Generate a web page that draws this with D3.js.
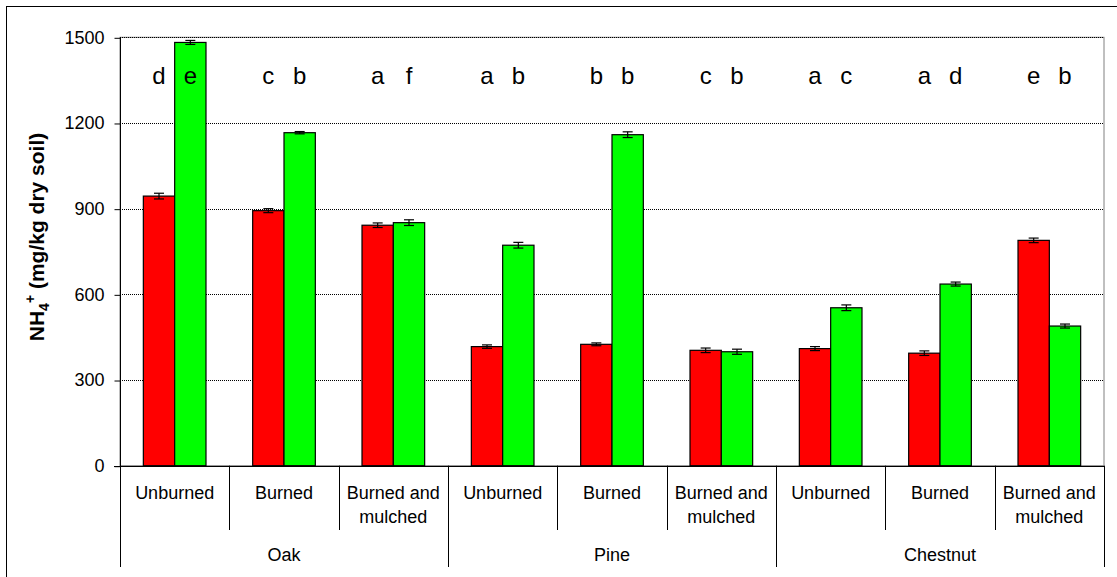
<!DOCTYPE html>
<html>
<head>
<meta charset="utf-8">
<script src="https://cdn.jsdelivr.net/npm/d3@7"></script>
<style>
  html, body { margin: 0; padding: 0; background: #fff; }
  svg { display: block; }
  text { font-family: Arial, "Liberation Sans", sans-serif; fill: #000; }
</style>
</head>
<body>
<svg id="chart" width="1117" height="577"></svg>
<script>
// Sites (outer grouping) and treatments (inner grouping)
const sites = ["Oak", "Pine", "Chestnut"];
const treatments = ["Unburned", "Burned", "Burned and mulched"];

// NH4+ concentration (mg/kg dry soil), one value per site × treatment
const seriesA = [944, 893, 842, 417, 425, 404, 410, 394, 789];
const seriesB = [1482, 1166, 851, 772, 1159, 399, 553, 636, 489];

// Standard errors
const errorsA = [10, 7, 8, 6, 5, 8, 7, 8, 8];
const errorsB = [7, 4, 10, 10, 10, 9, 10, 7, 7];

// Significance letters
const lettersA = ["d", "c", "a", "a", "b", "c", "a", "a", "e"];
const lettersB = ["e", "b", "f", "b", "b", "b", "c", "d", "b"];

// Y axis ticks
const yTicks = [0, 300, 600, 900, 1200, 1500];

const svg = d3.select("#chart");
const W = 1117, H = 577;
const plot = { left: 120, right: 1104, top: 37.3, bottom: 465.7 };

// Outer frame
svg.append("rect")
  .attr("x", 6.5).attr("y", 6.5)
  .attr("width", W + 10).attr("height", H + 10)
  .attr("fill", "none").attr("stroke", "#000").attr("stroke-width", 1);

// Cells: one per site × treatment
const cells = [];
sites.forEach((s, si) => treatments.forEach((t, ti) => {
  const i = si * treatments.length + ti;
  cells.push({ key: s + "|" + t, site: s, treatment: t,
    values: [
      { series: "A", v: seriesA[i], err: errorsA[i], letter: lettersA[i] },
      { series: "B", v: seriesB[i], err: errorsB[i], letter: lettersB[i] }
    ] });
}));

const x0 = d3.scaleBand()
  .domain(cells.map(d => d.key))
  .range([plot.left, plot.right])
  .paddingInner(0).paddingOuter(0);

const x1 = d3.scaleBand()
  .domain(["A", "B"])
  .range([0, x0.bandwidth()])
  .paddingInner(0)
  .paddingOuter(0.745);

const y = d3.scaleLinear().domain([0, 1500]).range([plot.bottom, plot.top]);

const colors = { A: "#ff0000", B: "#00ff00" };

// Plot area border
svg.append("rect")
  .attr("x", plot.left).attr("y", plot.top)
  .attr("width", plot.right - plot.left).attr("height", plot.bottom - plot.top)
  .attr("fill", "none").attr("stroke", "#808080").attr("stroke-width", 1);

// Gridlines
svg.append("g")
  .selectAll("line")
  .data(yTicks.filter(t => t > 0))
  .join("line")
  .attr("x1", plot.left).attr("x2", plot.right)
  .attr("y1", d => Math.round(y(d)) + 0.5).attr("y2", d => Math.round(y(d)) + 0.5)
  .attr("stroke", "#000").attr("stroke-width", 1)
  .attr("stroke-dasharray", "1,1");

// Y axis
const yAxis = d3.axisLeft(y).tickValues(yTicks).tickSize(6).tickPadding(10)
  .tickFormat(d3.format("d"));
const gy = svg.append("g")
  .attr("transform", `translate(${plot.left + 0.5},0)`)
  .call(yAxis);
gy.select(".domain").remove();
gy.selectAll(".tick line").attr("stroke", "#000")
  .attr("transform", "translate(0,0.5)");
gy.selectAll(".tick text")
  .style("font-size", "18px")
  .style("font-family", "Arial, 'Liberation Sans', sans-serif")
  .attr("fill", "#000");

// Y axis line (continues through category label area)
svg.append("line")
  .attr("x1", plot.left + 0.5).attr("x2", plot.left + 0.5)
  .attr("y1", plot.top).attr("y2", 567)
  .attr("stroke", "#000");

// Bars
const groups = svg.append("g").selectAll("g")
  .data(cells)
  .join("g")
  .attr("transform", d => `translate(${x0(d.key)},0)`);

groups.selectAll("rect")
  .data(d => d.values)
  .join("rect")
  .attr("x", d => x1(d.series))
  .attr("y", d => y(d.v))
  .attr("width", x1.bandwidth())
  .attr("height", d => y(0) - y(d.v))
  .attr("fill", d => colors[d.series])
  .attr("stroke", "#000").attr("stroke-width", 1.2);

// Error bars
const eb = groups.selectAll("g.err")
  .data(d => d.values)
  .join("g").attr("class", "err")
  .attr("transform", d => `translate(${x1(d.series) + x1.bandwidth() / 2},0)`);
eb.append("line")
  .attr("x1", 0).attr("x2", 0)
  .attr("y1", d => y(d.v + d.err)).attr("y2", d => y(d.v - d.err))
  .attr("stroke", "#000").attr("stroke-width", 1.2);
eb.append("line")
  .attr("x1", -5).attr("x2", 5)
  .attr("y1", d => y(d.v + d.err)).attr("y2", d => y(d.v + d.err))
  .attr("stroke", "#000").attr("stroke-width", 1.2);
eb.append("line")
  .attr("x1", -5).attr("x2", 5)
  .attr("y1", d => y(d.v - d.err)).attr("y2", d => y(d.v - d.err))
  .attr("stroke", "#000").attr("stroke-width", 1.2);

// Significance letters
groups.selectAll("text.letter")
  .data(d => d.values)
  .join("text").attr("class", "letter")
  .attr("x", d => x1(d.series) + x1.bandwidth() / 2)
  .attr("y", 84)
  .attr("text-anchor", "middle")
  .style("font-size", "24px")
  .text(d => d.letter);

// X axis baseline
svg.append("line")
  .attr("x1", plot.left - 6).attr("x2", plot.right)
  .attr("y1", Math.round(plot.bottom) + 0.5).attr("y2", Math.round(plot.bottom) + 0.5)
  .attr("stroke", "#000");

// Treatment dividers and labels
const nT = treatments.length;
cells.forEach((c, i) => {
  const xr = x0(c.key) + x0.bandwidth();
  const isSiteEdge = (i + 1) % nT === 0;
  svg.append("line")
    .attr("x1", Math.round(xr) + 0.5).attr("x2", Math.round(xr) + 0.5)
    .attr("y1", plot.bottom).attr("y2", isSiteEdge ? 567 : 530)
    .attr("stroke", "#000");
});

const catLabels = svg.append("g").selectAll("text")
  .data(cells)
  .join("text")
  .attr("x", d => x0(d.key) + x0.bandwidth() / 2)
  .attr("y", 499)
  .attr("text-anchor", "middle")
  .style("font-size", "18px");
catLabels.each(function (d) {
  const words = d.treatment === "Burned and mulched" ? ["Burned and", "mulched"] : [d.treatment];
  const t = d3.select(this);
  words.forEach((w, k) => {
    t.append("tspan")
      .attr("x", x0(d.key) + x0.bandwidth() / 2)
      .attr("dy", k === 0 ? 0 : 23.5)
      .text(w);
  });
});

// Site labels
svg.append("g").selectAll("text")
  .data(sites)
  .join("text")
  .attr("x", (s, si) => {
    const first = x0(s + "|" + treatments[0]);
    const last = x0(s + "|" + treatments[nT - 1]) + x0.bandwidth();
    return (first + last) / 2;
  })
  .attr("y", 561)
  .attr("text-anchor", "middle")
  .style("font-size", "18px")
  .text(s => s);

// Y axis title
const title = svg.append("text")
  .attr("transform", "translate(44,237) rotate(-90)")
  .attr("text-anchor", "middle")
  .style("font-size", "21px")
  .style("font-weight", "bold");
title.append("tspan").text("NH");
title.append("tspan").attr("dy", 5).style("font-size", "14px").text("4");
title.append("tspan").attr("dy", -14).style("font-size", "14px").text("+");
title.append("tspan").attr("dy", 9).text(" (mg/kg dry soil)");
</script>
</body>
</html>
